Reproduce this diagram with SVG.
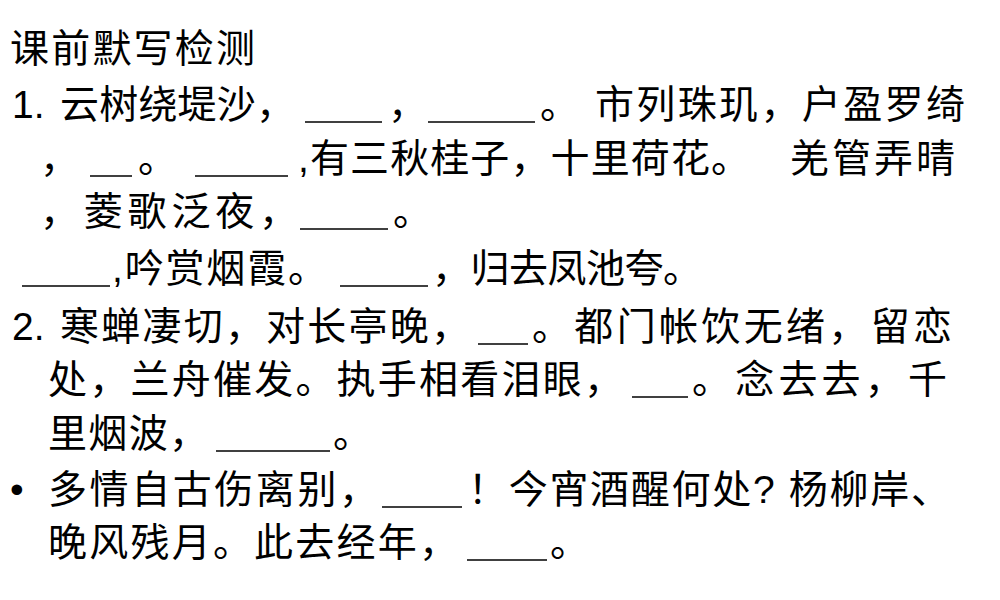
<svg xmlns="http://www.w3.org/2000/svg" width="1000" height="600" viewBox="0 0 1000 600">
<style>
text{font-family:"Liberation Sans","Noto Sans CJK SC",sans-serif;font-size:39px;fill:#000}
line{stroke:#000;stroke-width:1.5}
</style>
<rect width="1000" height="600" fill="#fff"/>
<text x="10" y="62" textLength="245">课前默写检测</text>
<text x="12" y="118">1.</text>
<text x="60" y="118" textLength="235">云树绕堤沙，</text>
<line x1="305" y1="122" x2="382" y2="122"/>
<text x="388" y="118">，</text>
<line x1="428" y1="122" x2="535" y2="122"/>
<text x="540" y="118">。</text>
<text x="595" y="118" textLength="370">市列珠玑，户盈罗绮</text>
<text x="40" y="172">，</text>
<line x1="90" y1="176" x2="132" y2="176"/>
<text x="138" y="172">。</text>
<line x1="195" y1="176" x2="288" y2="176"/>
<text x="298" y="172" textLength="452">,有三秋桂子，十里荷花。</text>
<text x="790" y="172" textLength="165">羌管弄晴</text>
<text x="40" y="225" textLength="258">，菱歌泛夜，</text>
<line x1="300" y1="229" x2="388" y2="229"/>
<text x="393" y="225">。</text>
<line x1="22" y1="286" x2="110" y2="286"/>
<text x="112" y="282" textLength="215">,吟赏烟霞。</text>
<line x1="340" y1="286" x2="428" y2="286"/>
<text x="432" y="282" textLength="270">，归去凤池夸。</text>
<text x="12" y="340">2.</text>
<text x="60" y="340" textLength="410">寒蝉凄切，对长亭晚，</text>
<line x1="478" y1="344" x2="528" y2="344"/>
<text x="532" y="340" textLength="420">。都门帐饮无绪，留恋</text>
<text x="48" y="393" textLength="575">处，兰舟催发。执手相看泪眼，</text>
<line x1="632" y1="397" x2="688" y2="397"/>
<text x="692" y="393" textLength="255">。念去去，千</text>
<text x="48" y="447" textLength="160">里烟波，</text>
<line x1="216" y1="451" x2="330" y2="451"/>
<text x="333" y="447">。</text>
<text x="10" y="503">•</text>
<text x="48" y="503" textLength="330">多情自古伤离别，</text>
<line x1="382" y1="507" x2="462" y2="507"/>
<text x="468" y="503" textLength="482">！今宵酒醒何处? 杨柳岸、</text>
<text x="48" y="556" textLength="410">晚风残月。此去经年，</text>
<line x1="467" y1="560" x2="547" y2="560"/>
<text x="550" y="556">。</text>
</svg>
